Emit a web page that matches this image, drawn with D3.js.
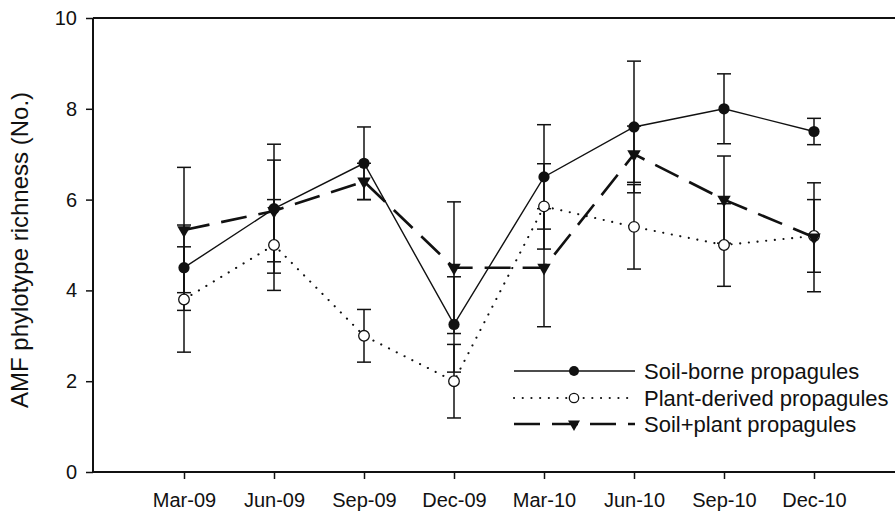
<!DOCTYPE html>
<html>
<head>
<meta charset="utf-8">
<script src="https://cdn.jsdelivr.net/npm/d3@7"></script>
<style>
  html, body { margin: 0; padding: 0; background: #fff; }
  svg { display: block; }
  text { font-family: "Liberation Sans", Arial, sans-serif; fill: #111; }
</style>
</head>
<body>
<svg id="chart" width="895" height="513"></svg>
<script>
// ---- data ----
const months = ["Mar-09", "Jun-09", "Sep-09", "Dec-09", "Mar-10", "Jun-10", "Sep-10", "Dec-10"];
const yTicks = [0, 2, 4, 6, 8, 10];

const soilValues  = [4.5, 5.8, 6.8, 3.25, 6.5, 7.6, 8.0, 7.5];
const soilErrors  = [0.94, 1.42, 0.8, 1.05, 1.15, 1.45, 0.77, 0.29];

const plantValues = [3.8, 5.0, 3.0, 2.0, 5.85, 5.4, 5.0, 5.2];
const plantErrors = [1.16, 1.0, 0.58, 0.81, 0.94, 0.93, 0.91, 0.8];

const mixValues   = [5.33, 5.75, 6.4, 4.5, 4.5, 7.0, 6.0, 5.17];
const mixErrors   = [1.38, 1.12, 0.4, 1.45, 1.3, 0.62, 0.96, 1.2];

const seriesNames = ["Soil-borne propagules", "Plant-derived propagules", "Soil+plant propagules"];

// ---- layout ----
const plotL = 93, plotR = 895, plotT = 18, plotB = 472;
const fontFam = '"Liberation Sans", Arial, sans-serif';

const svg = d3.select("#chart");

const x = d3.scaleLinear().domain([0, months.length - 1]).range([184, 814]);
const y = d3.scaleLinear().domain([0, 10]).range([plotB, plotT]);

const series = [
  { name: seriesNames[0], values: soilValues,  errors: soilErrors,  kind: "solid" },
  { name: seriesNames[1], values: plantValues, errors: plantErrors, kind: "dot" },
  { name: seriesNames[2], values: mixValues,   errors: mixErrors,   kind: "dash" }
];

// frame lines
svg.append("line").attr("x1", plotL).attr("x2", plotR).attr("y1", plotT).attr("y2", plotT)
  .attr("stroke", "#111").attr("stroke-width", 2.2);
svg.append("line").attr("x1", plotL).attr("x2", plotR).attr("y1", plotB).attr("y2", plotB)
  .attr("stroke", "#111").attr("stroke-width", 2.2);
svg.append("line").attr("x1", plotL).attr("x2", plotL).attr("y1", plotT).attr("y2", plotB)
  .attr("stroke", "#111").attr("stroke-width", 2);

// y axis
const yAxis = svg.append("g").attr("transform", `translate(${plotL},0)`)
  .call(d3.axisLeft(y).tickValues(yTicks).tickSize(7).tickPadding(9).tickFormat(d3.format("d")));
yAxis.select(".domain").remove();
yAxis.selectAll(".tick line").attr("stroke", "#111").attr("stroke-width", 1.5);
yAxis.selectAll(".tick text").style("font-size", "20px").attr("fill", "#111")
  .style("font-family", fontFam);

// x axis
const xAxis = svg.append("g").attr("transform", `translate(0,${plotB})`)
  .call(d3.axisBottom(x).tickValues(d3.range(months.length)).tickSize(7).tickPadding(14)
    .tickFormat(i => months[i]));
xAxis.select(".domain").remove();
xAxis.selectAll(".tick line").attr("stroke", "#111").attr("stroke-width", 1.5);
xAxis.selectAll(".tick text").style("font-size", "20px").attr("fill", "#111")
  .style("font-family", fontFam);

// y title
svg.append("text")
  .attr("transform", `translate(28,250) rotate(-90)`)
  .attr("text-anchor", "middle")
  .style("font-size", "24px")
  .text("AMF phylotype richness (No.)");

// error bars
const capHalf = 7;
series.forEach(s => {
  const g = svg.append("g");
  s.values.forEach((v, i) => {
    const e = s.errors[i];
    const cx = x(i);
    g.append("line").attr("x1", cx).attr("x2", cx).attr("y1", y(v + e)).attr("y2", y(v - e))
      .attr("stroke", "#111").attr("stroke-width", 1.5);
    [v + e, v - e].forEach(val => {
      g.append("line").attr("x1", cx - capHalf).attr("x2", cx + capHalf)
        .attr("y1", y(val)).attr("y2", y(val))
        .attr("stroke", "#111").attr("stroke-width", 1.5);
    });
  });
});

function styleLine(sel, kind) {
  if (kind === "solid") sel.attr("stroke-width", 1.4);
  else if (kind === "dot") sel.attr("stroke-width", 2.1).attr("stroke-dasharray", "0.1 8.6").attr("stroke-linecap", "round");
  else sel.attr("stroke-width", 2.6).attr("stroke-dasharray", "26 12");
  return sel;
}

const lineGen = d3.line().x((d, i) => x(i)).y(d => y(d));
series.forEach(s => {
  styleLine(svg.append("path").datum(s.values).attr("d", lineGen)
    .attr("fill", "none").attr("stroke", "#111"), s.kind);
});

function drawMarker(g, kind, cx, cy, r) {
  if (kind === "solid") {
    g.append("circle").attr("cx", cx).attr("cy", cy).attr("r", r).attr("fill", "#111");
  } else if (kind === "dot") {
    g.append("circle").attr("cx", cx).attr("cy", cy).attr("r", r - 0.3)
      .attr("fill", "#fff").attr("stroke", "#111").attr("stroke-width", 1.3);
  } else {
    const sym = d3.symbol().type(d3.symbolTriangle).size(r * r * 2.5);
    g.append("path").attr("d", sym).attr("transform", `translate(${cx},${cy}) rotate(180)`)
      .attr("fill", "#111");
  }
}

series.forEach(s => {
  const g = svg.append("g");
  s.values.forEach((v, i) => drawMarker(g, s.kind, x(i), y(v), 5.6));
});

// legend
const legendRows = [371, 398, 424];
series.forEach((s, k) => {
  const ly = legendRows[k];
  styleLine(svg.append("line").attr("x1", 514).attr("x2", 635).attr("y1", ly).attr("y2", ly)
    .attr("stroke", "#111"), s.kind);
  drawMarker(svg.append("g"), s.kind, 574, ly, 5);
  svg.append("text").attr("x", 644).attr("y", ly).attr("dy", "0.36em")
    .style("font-size", "22px").text(s.name);
});
</script>
</body>
</html>
